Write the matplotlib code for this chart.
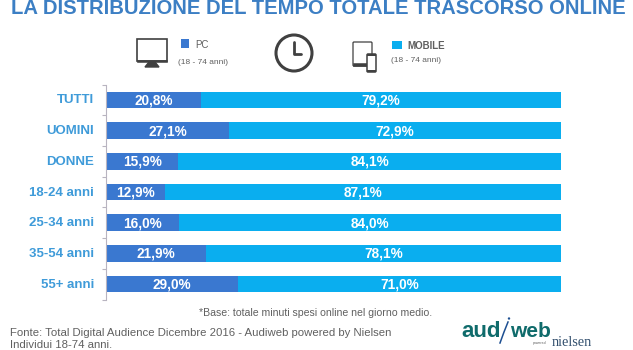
import matplotlib
matplotlib.use('Agg')
import matplotlib.pyplot as plt
from matplotlib.patches import Rectangle, Circle, FancyBboxPatch

plt.rcParams['font.family'] = ['Liberation Sans', 'DejaVu Sans']

# Data
categories = ['TUTTI', 'UOMINI', 'DONNE', '18-24 anni', '25-34 anni', '35-54 anni', '55+ anni']
pc_values = [20.8, 27.1, 15.9, 12.9, 16.0, 21.9, 29.0]
mobile_values = [79.2, 72.9, 84.1, 87.1, 84.0, 78.1, 71.0]

blue_pc = '#3a78d0'
blue_mobile = '#0aaeef'
title_blue = '#3c7fc4'
label_blue = '#3f9bd9'
grey = '#606060'
icon = '#404040'

W, H = 633, 350
fig = plt.figure(figsize=(W / 100, H / 100), dpi=100)

# overlay in pixel coordinates for texts and icons
bg = fig.add_axes([0, 0, 1, 1])
bg.set_xlim(0, W)
bg.set_ylim(H, 0)
bg.axis('off')

# Bars
ax = fig.add_axes([106 / W, 1 - 299.5 / H, 455 / W, 215 / H])
y = list(range(len(categories)))
ax.barh(y, pc_values, height=0.54, color=blue_pc)
ax.barh(y, mobile_values, left=pc_values, height=0.54, color=blue_mobile)
ax.set_xlim(0, 100)
ax.set_ylim(len(categories) - 0.5, -0.5)
ax.patch.set_alpha(0)
for s in ['top', 'right', 'bottom']:
    ax.spines[s].set_visible(False)
ax.spines['left'].set_color('#b8b4c0')
ax.spines['left'].set_linewidth(0.8)
ax.set_xticks([])
ax.set_yticks([i - 0.5 for i in range(len(categories) + 1)])
ax.set_yticklabels([])
ax.tick_params(axis='y', length=3, width=0.8, color='#b8b4c0')

for i, cat in enumerate(categories):
    ax.annotate(cat, (0, i), xytext=(-12, 1), textcoords='offset pixels', ha='right', va='center_baseline',
                color=label_blue, fontsize=9.5, fontweight='bold')
    ax.annotate(f'{pc_values[i]:.1f}%'.replace('.', ','), (pc_values[i] / 2, i), xytext=(0, 1),
                textcoords='offset pixels', ha='center', va='center_baseline',
                color='white', fontsize=9.8, fontweight='bold')
    ax.annotate(f'{mobile_values[i]:.1f}%'.replace('.', ','), (pc_values[i] + mobile_values[i] / 2, i), xytext=(0, 1),
                textcoords='offset pixels', ha='center', va='center_baseline',
                color='white', fontsize=9.8, fontweight='bold')

# Title at the top edge
bg.text(318, 8, 'LA DISTRIBUZIONE DEL TEMPO TOTALE TRASCORSO ONLINE', ha='center', va='center',
        color=title_blue, fontsize=14.6, fontweight='bold')

# Monitor icon
bg.add_patch(Rectangle((137, 39), 30, 22, fc='white', ec=icon, lw=1.2))
bg.add_patch(Rectangle((137, 60), 30, 2, fc=icon, ec=icon, lw=0.4))
bg.fill([149, 155, 159, 145], [62, 62, 67, 67], color=icon)

# Clock icon
bg.add_patch(Circle((294, 53), 18, fc='white', ec=icon, lw=2.2))
bg.plot([294, 294, 301], [42, 54, 54], color=icon, lw=2, solid_capstyle='round')

# Tablet and phone icon
bg.add_patch(FancyBboxPatch((353, 42), 19, 24, boxstyle='round,pad=0,rounding_size=1', fc='white', ec=icon, lw=0.9))
bg.add_patch(Rectangle((353, 63), 19, 3, fc=icon, ec=icon, lw=0.4))
bg.add_patch(FancyBboxPatch((367, 54), 9, 18, boxstyle='round,pad=0,rounding_size=1', fc='white', ec=icon, lw=1.1))
bg.add_patch(Rectangle((367, 54), 9, 2, fc=icon, ec='none'))
bg.add_patch(Rectangle((367, 70), 9, 2, fc=icon, ec='none'))

# Legend
bg.add_patch(Rectangle((181, 39), 8, 9, fc=blue_pc, ec='none'))
bg.text(195, 45, 'PC', ha='left', va='center', color=grey, fontsize=7)
bg.text(178, 63, '(18 - 74 anni)', ha='left', va='center', color=grey, fontsize=6)
bg.add_patch(Rectangle((392, 41), 10, 8, fc=blue_mobile, ec='none'))
bg.text(407, 46, 'MOBILE', ha='left', va='center', color=grey, fontsize=7, fontweight='bold')
bg.text(391, 60, '(18 - 74 anni)', ha='left', va='center', color=grey, fontsize=6)

# Notes
bg.text(316, 313, '*Base: totale minuti spesi online nel giorno medio.', ha='center', va='center',
        color=grey, fontsize=7.6)
bg.text(10, 333, 'Fonte: Total Digital Audience Dicembre 2016 - Audiweb powered by Nielsen',
        ha='left', va='center', color=grey, fontsize=8.2)
bg.text(10, 344.5, 'Individui 18-74 anni.', ha='left', va='center', color=grey, fontsize=8.2)

# Logo
bg.text(461, 337, 'aud', ha='left', va='baseline', color='#0f6b6b', fontsize=16, fontweight='bold')
bg.text(510, 337, 'web', ha='left', va='baseline', color='#0f6b6b', fontsize=15, fontweight='bold')
bg.plot([508, 504, 500], [322, 332, 343], color='#1d4f91', lw=1.1)
bg.add_patch(Circle((509, 318.5), 1.2, fc='#1d4f91', ec='none'))
bg.text(540, 343, 'powered', ha='center', va='center', color=grey, fontsize=2.5)
bg.text(552, 343, 'nielsen', ha='left', va='center', color='#33506e', fontsize=10.3, family='Liberation Serif')

fig.savefig('out.png', dpi=100)
